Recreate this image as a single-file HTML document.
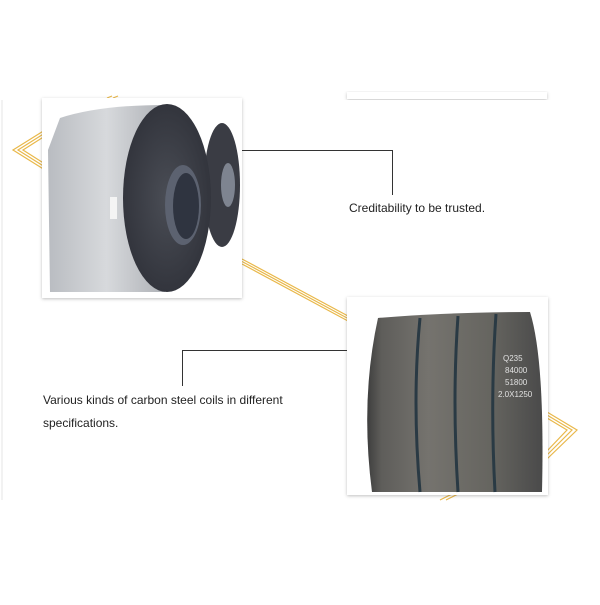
<!DOCTYPE html>
<html><head><meta charset="utf-8"><style>
html,body{margin:0;padding:0;background:#fff;}
body{width:600px;height:600px;overflow:hidden;position:relative;font-family:"Liberation Sans",sans-serif;}
</style></head><body>
<svg width="600" height="600" viewBox="0 0 600 600" xmlns="http://www.w3.org/2000/svg">
<defs>
<linearGradient id="side" x1="0" y1="0" x2="1" y2="0">
<stop offset="0" stop-color="#b9bcc1"/><stop offset="0.5" stop-color="#d7d9dc"/><stop offset="1" stop-color="#aeb1b6"/>
</linearGradient>
<radialGradient id="face" cx="0.5" cy="0.5" r="0.6">
<stop offset="0" stop-color="#4a4d55"/><stop offset="1" stop-color="#2e3038"/>
</radialGradient>
<linearGradient id="dark" x1="0" y1="0" x2="1" y2="0">
<stop offset="0" stop-color="#3e3e3e"/><stop offset="0.08" stop-color="#5e5d5a"/><stop offset="0.35" stop-color="#75736e"/><stop offset="0.7" stop-color="#666560"/><stop offset="1" stop-color="#4a4a4a"/>
</linearGradient>
<filter id="sh" x="-10%" y="-10%" width="120%" height="120%"><feDropShadow dx="0" dy="1" stdDeviation="1.5" flood-color="#000" flood-opacity="0.25"/></filter>
</defs>
<line x1="2" y1="100" x2="2" y2="500" stroke="#e4e4e4" stroke-width="1"/>
<g fill="none" stroke="#e9b84a" stroke-width="1.2">
<polyline points="45,130 13,150 45,170"/>
<polyline points="45,133 18,150 45,167"/>
<polyline points="45,136 23,150 45,164"/>
<line x1="242" y1="259" x2="348" y2="316"/>
<line x1="242" y1="261.5" x2="348" y2="318.5"/>
<line x1="242" y1="264" x2="348" y2="321"/>
<polyline points="547,412 577,430 547,459"/>
<polyline points="547,415 572,430 547,455"/>
<polyline points="547,418 567,430 547,451"/>
<line x1="440" y1="500" x2="452" y2="494"/>
<line x1="446" y1="500" x2="458" y2="494"/>
<line x1="107" y1="98" x2="112" y2="96"/><line x1="113" y1="98" x2="118" y2="96"/>
</g>
<rect x="347" y="92" width="200" height="7" fill="#fff" filter="url(#sh)"/>
<rect x="42" y="98" width="200" height="200" fill="#fff" filter="url(#sh)"/>
<rect x="48" y="104" width="189" height="188" fill="#fff"/>
<ellipse cx="222" cy="185" rx="18" ry="62" fill="#3a3c44"/>
<ellipse cx="228" cy="185" rx="7" ry="22" fill="#7e8490"/>
<path d="M60,118 Q100,105 165,105 L165,292 L50,292 L48,150 Z" fill="url(#side)"/>
<ellipse cx="167" cy="198" rx="44" ry="94" fill="url(#face)"/>
<ellipse cx="183" cy="205" rx="18" ry="40" fill="#5c6270"/>
<ellipse cx="186" cy="206" rx="13" ry="33" fill="#2f3440"/>
<rect x="110" y="197" width="7" height="22" fill="#f4f4f4"/>
<rect x="347" y="297" width="201" height="198" fill="#fff" filter="url(#sh)"/>
<path d="M378,318 Q450,312 530,312 Q545,360 542,492 L372,492 Q360,400 378,318 Z" fill="url(#dark)"/>
<g stroke="#2a3a44" stroke-width="3" fill="none">
<path d="M420,318 Q412,400 420,492"/><path d="M458,316 Q452,400 458,492"/><path d="M496,314 Q490,400 495,492"/>
</g>
<g fill="#e0e0e0" font-size="8" font-family="Liberation Sans,sans-serif">
<text x="503" y="361">Q235</text><text x="505" y="373">84000</text><text x="505" y="385">51800</text><text x="498" y="397">2.0X1250</text>
</g>
<g stroke="#333" stroke-width="1" fill="none">
<polyline points="242,150.5 392.5,150.5 392.5,195"/>
<polyline points="347,350.5 182.5,350.5 182.5,386"/>
</g>
<g fill="#222" font-size="12" font-family="Liberation Sans,sans-serif">
<text x="349" y="212">Creditability to be trusted.</text>
<text x="43" y="404">Various kinds of carbon steel coils in different</text>
<text x="43" y="427">specifications.</text>
</g>
</svg>
</body></html>
